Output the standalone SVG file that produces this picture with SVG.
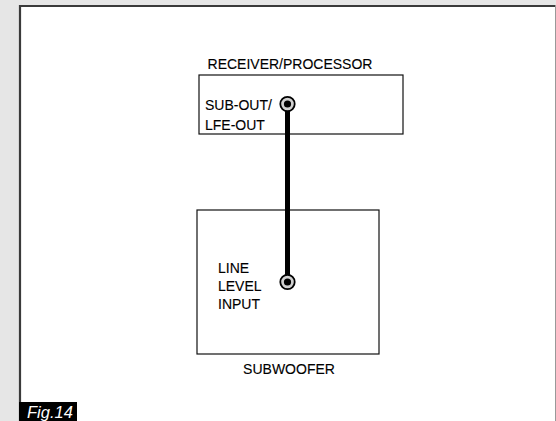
<svg xmlns="http://www.w3.org/2000/svg" width="556" height="421" viewBox="0 0 556 421">
<style>
.lbl{font-family:"Liberation Sans",Arial,sans-serif;font-size:14px;fill:#000;stroke:#000;stroke-width:0.12}
.box{fill:none;stroke:#111;stroke-width:1.2}
.jack{fill:#d0d0d0;stroke:#000;stroke-width:1.8}
.cable{stroke:#000;stroke-width:5;fill:none}
</style>
<rect x="0" y="0" width="556" height="421" fill="#e6e6e6"/>
<g id="panel">
<rect x="19" y="5" width="536" height="416" fill="#fff"/>
<line x1="20" y1="5" x2="20" y2="421" stroke="#3a3a3a" stroke-width="2.2"/>
<line x1="19" y1="6" x2="555" y2="6" stroke="#3a3a3a" stroke-width="2.2"/>
<line x1="555.5" y1="5" x2="555.5" y2="421" stroke="#999" stroke-width="1"/>
</g>
<g id="receiver">
<rect class="box" x="199" y="75" width="204" height="59"/>
<text class="lbl" x="290" y="69" text-anchor="middle">RECEIVER/PROCESSOR</text>
<text class="lbl" x="205" y="110">SUB-OUT/</text>
<text class="lbl" x="205" y="130">LFE-OUT</text>
</g>
<g id="subwoofer">
<rect class="box" x="197" y="210" width="182" height="144"/>
<text class="lbl" x="289" y="374" text-anchor="middle">SUBWOOFER</text>
<text class="lbl" x="218" y="273">LINE</text>
<text class="lbl" x="218" y="291">LEVEL</text>
<text class="lbl" x="218" y="309">INPUT</text>
</g>
<g id="connectors">
<line class="cable" x1="287.5" y1="104" x2="287.5" y2="282"/>
</g>
<g id="jacks">
<circle class="jack" cx="287.5" cy="104" r="7.2"/>
<circle cx="287.5" cy="104" r="3.6" fill="#000"/>
<circle class="jack" cx="287.5" cy="282" r="7.2"/>
<circle cx="287.5" cy="282" r="3.6" fill="#000"/>
</g>
<g id="figlabel">
<rect x="19" y="402" width="58" height="19" fill="#000"/>
<text x="27" y="418" font-family="Liberation Sans,Arial,sans-serif" font-style="italic" font-size="16.5" fill="#fff">Fig.14</text>
</g>
</svg>
